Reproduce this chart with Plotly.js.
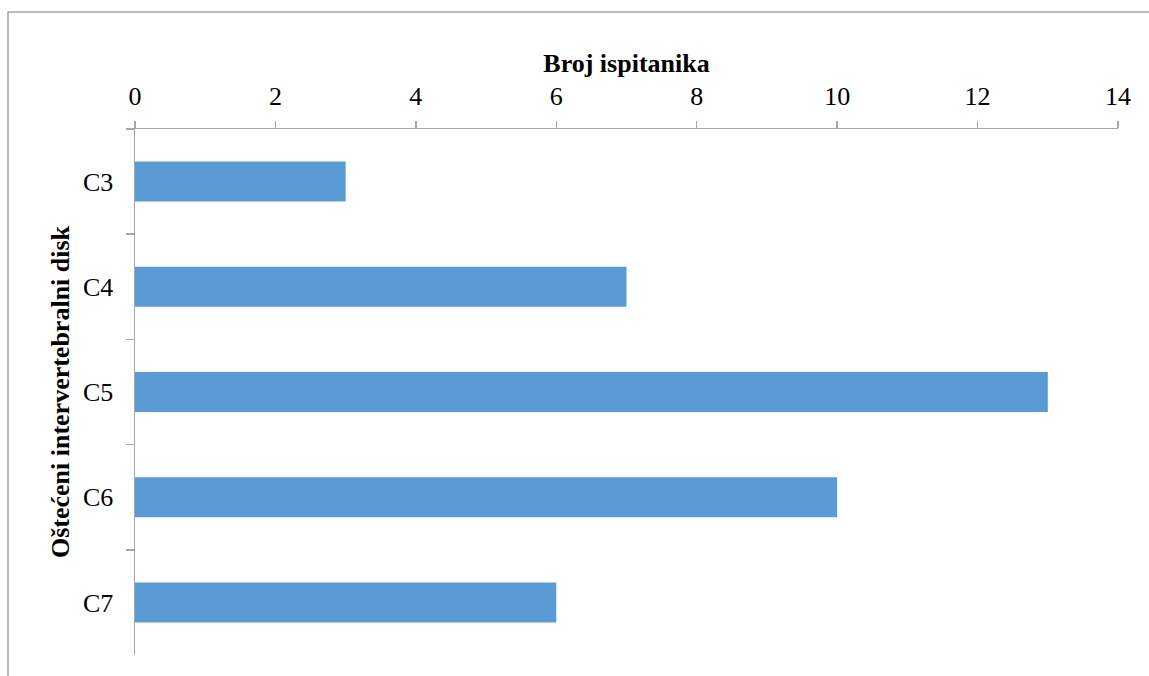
<!DOCTYPE html>
<html>
<head>
<meta charset="utf-8">
<script src="https://cdn.plot.ly/plotly-3.0.1.min.js"></script>
<style>html,body{margin:0;padding:0;background:#fff;}#chart{width:1149px;height:676px;}</style>
</head>
<body>
<div id="chart"></div>
<script>
const categories = ["C3", "C4", "C5", "C6", "C7"];
const counts = [3, 7, 13, 10, 6];
const xTitle = "Broj ispitanika";
const yTitle = "Oštećeni intervertebralni disk";

const font = "Liberation Serif, Times New Roman, serif";
const axisColor = "#a6a6a6";

const trace = {
  type: "bar",
  orientation: "h",
  x: counts,
  y: categories,
  marker: {color: "#5b9bd5"},
  hoverinfo: "x+y"
};

const layout = {
  width: 1149,
  height: 676,
  margin: {l: 135, r: 31, t: 129, b: 21, pad: 0},
  paper_bgcolor: "#ffffff",
  plot_bgcolor: "#ffffff",
  showlegend: false,
  bargap: 0.62,
  font: {family: font, color: "#000000", size: 26},
  xaxis: {
    side: "top",
    range: [0, 14],
    dtick: 2,
    tick0: 0,
    showgrid: false,
    zeroline: false,
    showline: true,
    linecolor: axisColor,
    linewidth: 1.5,
    ticks: "outside",
    ticklen: 7,
    tickcolor: axisColor,
    tickwidth: 1.5,
    ticklabelstandoff: 5,
    tickfont: {family: font, size: 26, color: "#000"},
    title: {text: "<b>" + xTitle + "</b>", font: {family: font, size: 26, color: "#000"}, standoff: 2}
  },
  yaxis: {
    type: "category",
    categoryorder: "array",
    categoryarray: categories,
    autorange: "reversed",
    showgrid: false,
    zeroline: false,
    showline: true,
    linecolor: axisColor,
    linewidth: 1.5,
    ticks: "outside",
    tickson: "boundaries",
    ticklen: 8,
    tickcolor: axisColor,
    tickwidth: 1.5,
    ticklabelstandoff: 15,
    tickfont: {family: font, size: 26, color: "#000"},
    title: {text: "<b>" + yTitle + "</b>", font: {family: font, size: 26, color: "#000"}, standoff: 6}
  },
  shapes: [{
    type: "rect",
    xref: "paper", yref: "paper",
    x0: -0.1292, x1: 1.0326, y0: -0.0475, y1: 1.2224,
    line: {color: "#a6a6a6", width: 1.5},
    fillcolor: "rgba(0,0,0,0)",
    layer: "below"
  }]
};

Plotly.newPlot("chart", [trace], layout, {displayModeBar: false, staticPlot: true});
</script>
</body>
</html>
